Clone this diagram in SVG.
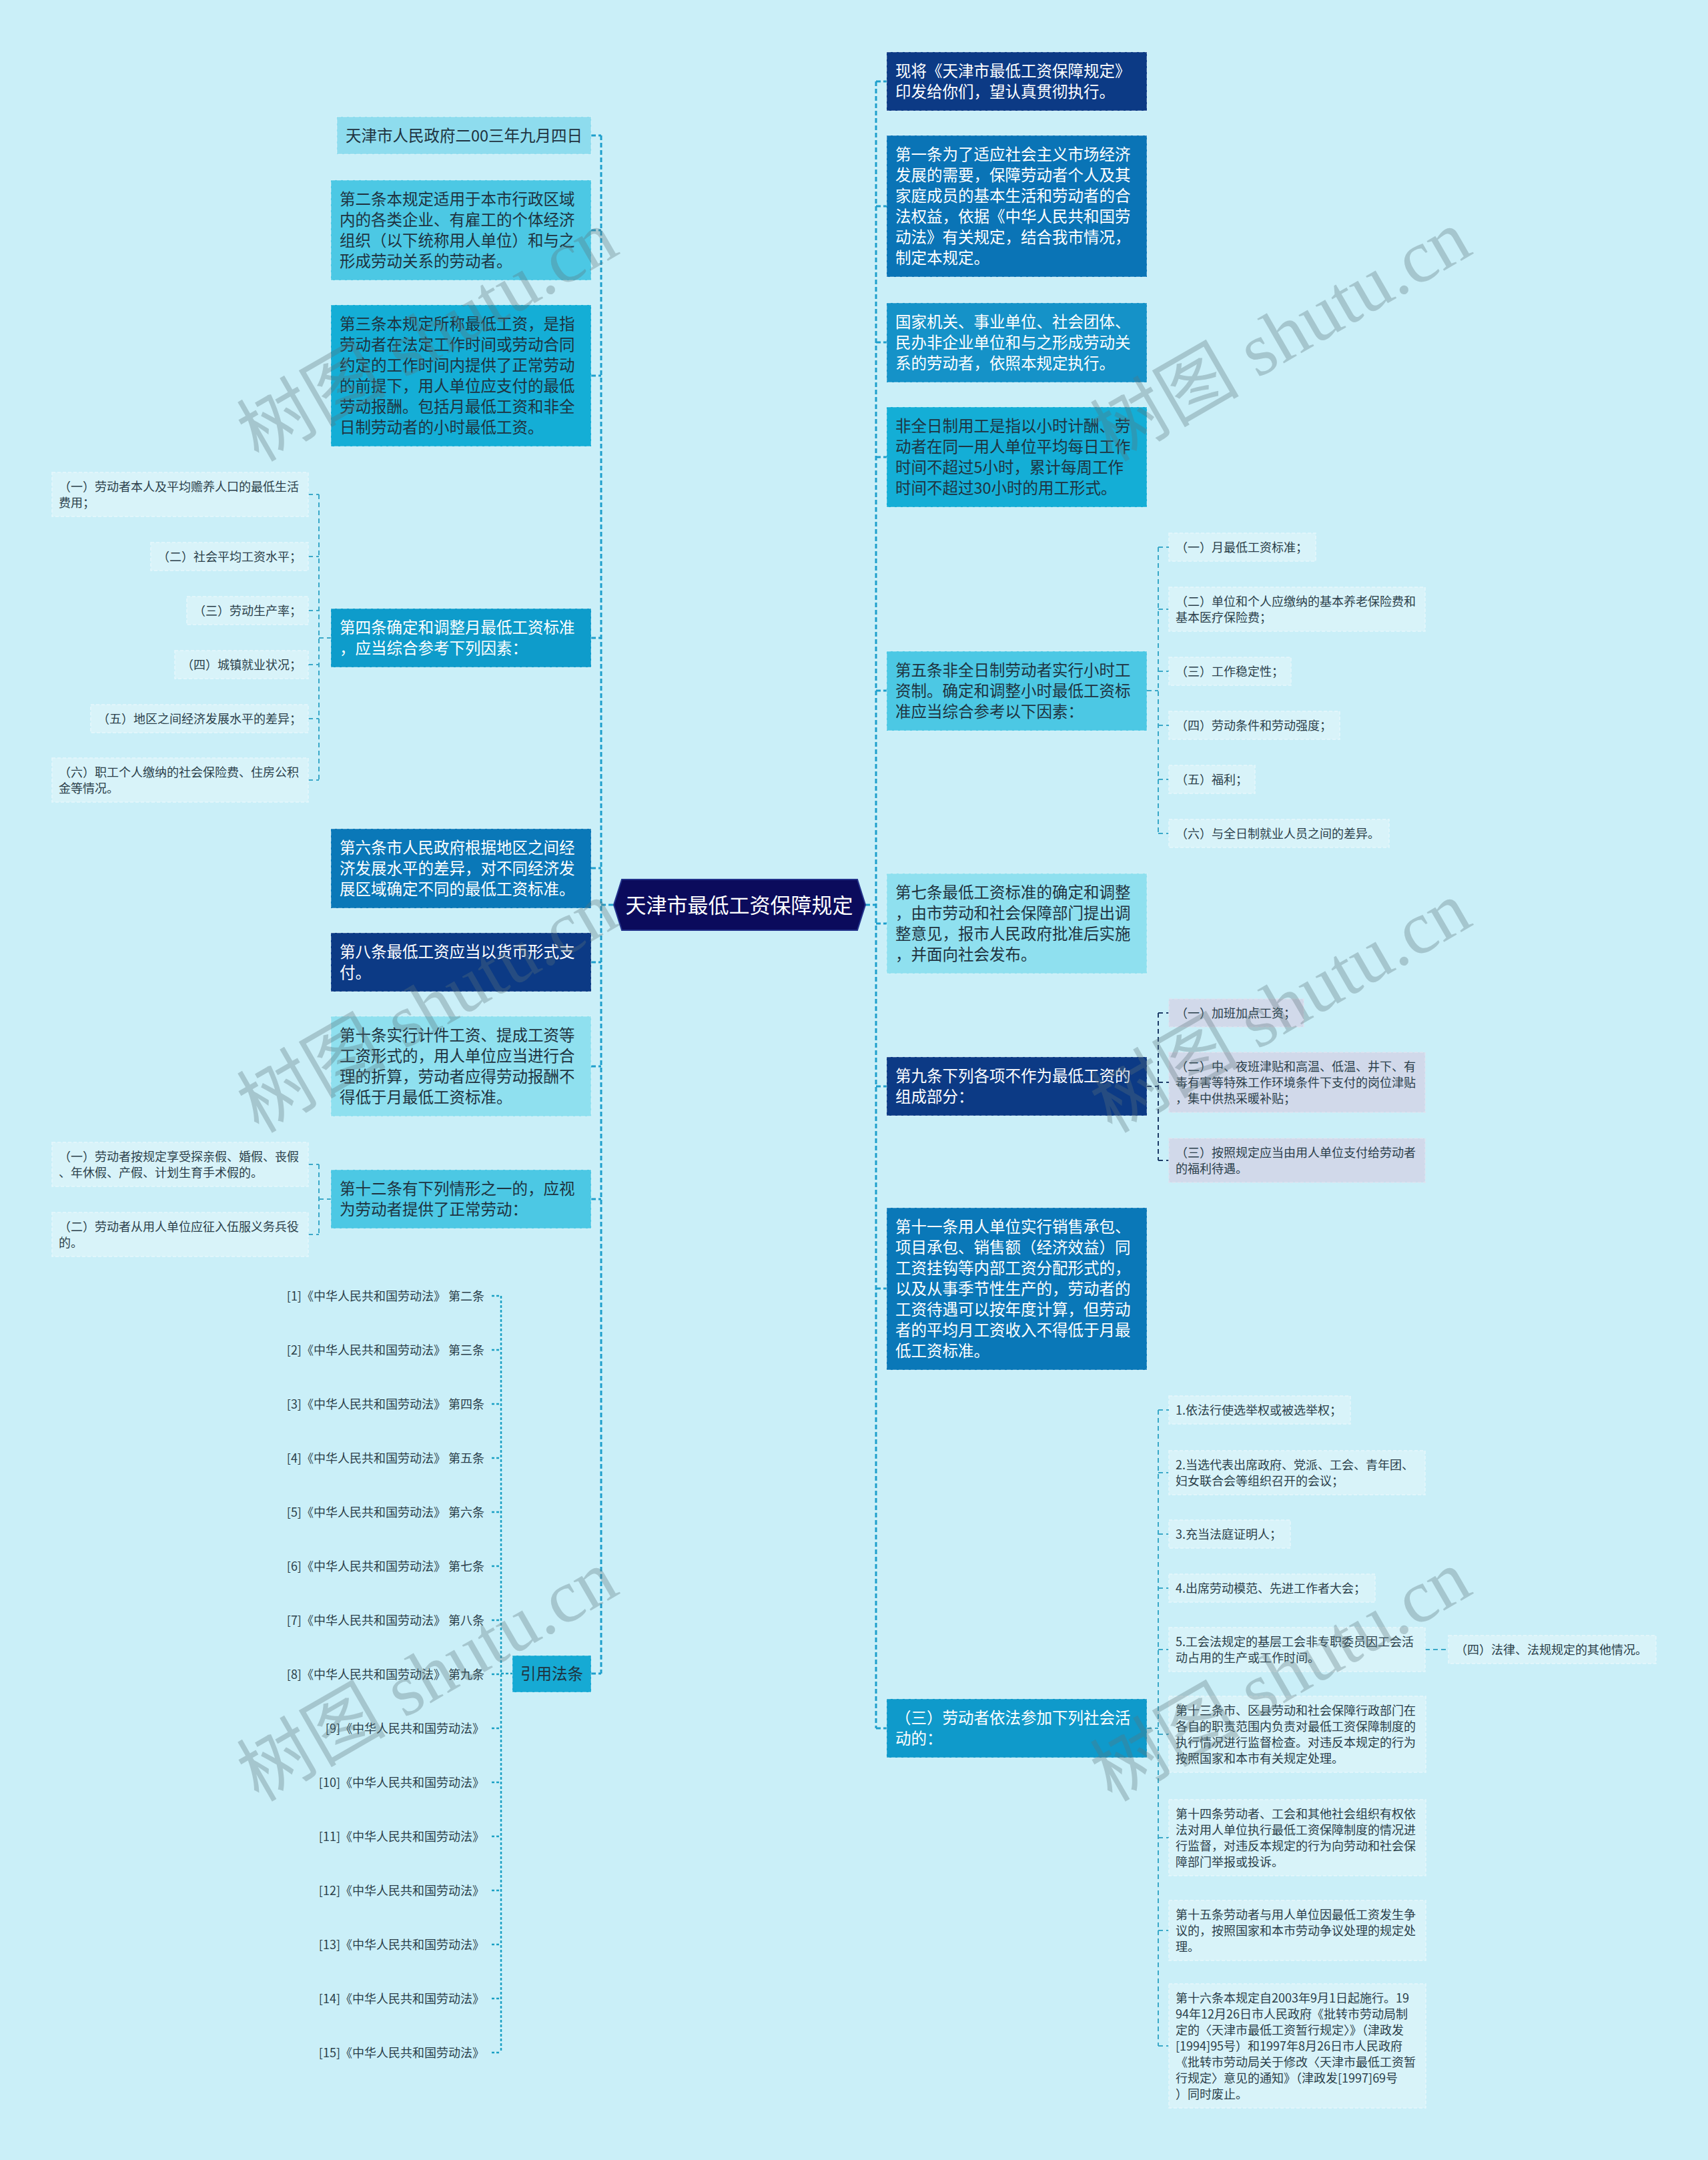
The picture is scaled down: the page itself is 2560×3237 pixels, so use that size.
<svg xmlns="http://www.w3.org/2000/svg" width="2560" height="3237" viewBox="0 0 2560 3237">
<style>
.t{font-family:'Noto Sans CJK SC','Noto Sans',sans-serif}
.m{font-size:23.5px}
.l{font-size:18px}
.dk{fill:#1f3340}
.lk{fill:#2b3f4a}
.wt{fill:#ffffff}
.bx{stroke:#ffffff;stroke-opacity:0.22;stroke-width:2;stroke-dasharray:6 3}
.lf{fill:#d8f3f9;stroke:#e6f8fc;stroke-width:1.5;stroke-dasharray:5 3}
.lp{fill:#d1d9ea;stroke:#dde3f0;stroke-width:1.5;stroke-dasharray:5 3}
.tr{fill:none;stroke:#1e9fcc;stroke-width:3;stroke-dasharray:7 4}
.cl{fill:none;stroke:#3aa8c8;stroke-width:2;stroke-dasharray:7 5}
.cn{fill:none;stroke:#1c3a66;stroke-width:2;stroke-dasharray:7 5}
.cr{fill:none;stroke:#1aa0c4;stroke-width:2.5;stroke-dasharray:4 3}
.wm{font-family:'Liberation Serif','Noto Sans CJK SC',serif;font-size:112px;fill:#5a7478;fill-opacity:0.33}
</style>
<rect x="0" y="0" width="2560" height="3237" fill="#caeff8"/>

<g id="connectors">
<path class="tr" d="M901,203 V2508 M886,203 H901 M886,345 H901 M886,563 H901 M886,956 H901 M886,1301 H901 M886,1442 H901 M886,1598 H901 M886,1797 H901 M886,2508 H901 M901,1356 H920"/>
<path class="tr" d="M1313,122 V2590 M1313,122 H1329 M1313,309 H1329 M1313,513 H1329 M1313,685 H1329 M1313,1035 H1329 M1313,1384 H1329 M1313,1628 H1329 M1313,1931 H1329 M1313,2590 H1329 M1297,1356 H1313"/>
<path class="cl" d="M478,741 V1169 M462,741 H478 M462,834 H478 M462,915 H478 M462,996 H478 M462,1077 H478 M462,1169 H478 M478,956 H496"/>
<path class="cl" d="M478,1745 V1850 M462,1745 H478 M462,1850 H478 M478,1797 H496"/>
<path class="cl" d="M1736,820 V1249 M1736,820 H1752 M1736,913 H1752 M1736,1006 H1752 M1736,1087 H1752 M1736,1168 H1752 M1736,1249 H1752 M1719,1035 H1736"/>
<path class="cn" d="M1736,1518 V1739 M1736,1518 H1752 M1736,1622 H1752 M1736,1739 H1752 M1719,1628 H1736"/>
<path class="cl" d="M1736,2113 V3066 M1736,2113 H1752 M1736,2207 H1752 M1736,2299 H1752 M1736,2380 H1752 M1736,2472 H1752 M1736,2599 H1752 M1736,2754 H1752 M1736,2893 H1752 M1736,3066 H1752 M1719,2590 H1736 M2136,2472 H2171"/>
<path class="cr" d="M751,1942 V3076 M737,1942 H751 M737,2023 H751 M737,2104 H751 M737,2185 H751 M737,2266 H751 M737,2347 H751 M737,2428 H751 M737,2509 H751 M737,2590 H751 M737,2671 H751 M737,2752 H751 M737,2833 H751 M737,2914 H751 M737,2995 H751 M737,3076 H751 M751,2508 H768"/>
</g>

<g id="root">
<polygon points="920,1356 932,1318 1285,1318 1297,1356 1285,1394 932,1394" fill="#0b0b5c" stroke="#22318a" stroke-width="2"/>
<text class="t wt" x="1108" y="1368" font-size="31" text-anchor="middle">天津市最低工资保障规定</text>
</g>

<g id="n-date"><rect class="bx" x="505" y="175" width="381" height="56" fill="#8edcee"/>
<text class="t m dk" x="518" y="211.5">天津市人民政府二00三年九月四日</text></g>

<g id="n-art2"><rect class="bx" x="496" y="270" width="390" height="150" fill="#4cc8e4"/>
<text class="t m dk"><tspan x="509" y="306.5">第二条本规定适用于本市行政区域</tspan><tspan x="509" y="337.5">内的各类企业、有雇工的个体经济</tspan><tspan x="509" y="368.5">组织（以下统称用人单位）和与之</tspan><tspan x="509" y="399.5">形成劳动关系的劳动者。</tspan></text></g>

<g id="n-art3"><rect class="bx" x="496" y="457" width="390" height="212" fill="#14aed6"/>
<text class="t m dk"><tspan x="509" y="493.5">第三条本规定所称最低工资，是指</tspan><tspan x="509" y="524.5">劳动者在法定工作时间或劳动合同</tspan><tspan x="509" y="555.5">约定的工作时间内提供了正常劳动</tspan><tspan x="509" y="586.5">的前提下，用人单位应支付的最低</tspan><tspan x="509" y="617.5">劳动报酬。包括月最低工资和非全</tspan><tspan x="509" y="648.5">日制劳动者的小时最低工资。</tspan></text></g>

<g id="n-art4"><rect class="bx" x="496" y="912" width="390" height="88" fill="#0e9ccb"/>
<text class="t m wt"><tspan x="509" y="948.5">第四条确定和调整月最低工资标准</tspan><tspan x="509" y="979.5">，应当综合参考下列因素：</tspan></text></g>

<g id="n-art4-1"><rect class="lf" x="78" y="708" width="384" height="66"/>
<text class="t l lk"><tspan x="88" y="735.8">（一）劳动者本人及平均赡养人口的最低生活</tspan><tspan x="88" y="759.8">费用；</tspan></text></g>
<g id="n-art4-2"><rect class="lf" x="226" y="813" width="236" height="42"/>
<text class="t l lk" x="236" y="840.8">（二）社会平均工资水平；</text></g>
<g id="n-art4-3"><rect class="lf" x="280" y="894" width="182" height="42"/>
<text class="t l lk" x="290" y="921.8">（三）劳动生产率；</text></g>
<g id="n-art4-4"><rect class="lf" x="262" y="975" width="200" height="42"/>
<text class="t l lk" x="272" y="1002.8">（四）城镇就业状况；</text></g>
<g id="n-art4-5"><rect class="lf" x="136" y="1056" width="326" height="42"/>
<text class="t l lk" x="146" y="1083.8">（五）地区之间经济发展水平的差异；</text></g>
<g id="n-art4-6"><rect class="lf" x="78" y="1136" width="384" height="66"/>
<text class="t l lk"><tspan x="88" y="1163.8">（六）职工个人缴纳的社会保险费、住房公积</tspan><tspan x="88" y="1187.8">金等情况。</tspan></text></g>

<g id="n-art6"><rect class="bx" x="496" y="1242" width="390" height="119" fill="#0a78b8"/>
<text class="t m wt"><tspan x="509" y="1278.5">第六条市人民政府根据地区之间经</tspan><tspan x="509" y="1309.5">济发展水平的差异，对不同经济发</tspan><tspan x="509" y="1340.5">展区域确定不同的最低工资标准。</tspan></text></g>

<g id="n-art8"><rect class="bx" x="496" y="1398" width="390" height="88" fill="#0c3a85"/>
<text class="t m wt"><tspan x="509" y="1434.5">第八条最低工资应当以货币形式支</tspan><tspan x="509" y="1465.5">付。</tspan></text></g>

<g id="n-art10"><rect class="bx" x="496" y="1523" width="390" height="150" fill="#8fe0ef"/>
<text class="t m dk"><tspan x="509" y="1559.5">第十条实行计件工资、提成工资等</tspan><tspan x="509" y="1590.5">工资形式的，用人单位应当进行合</tspan><tspan x="509" y="1621.5">理的折算，劳动者应得劳动报酬不</tspan><tspan x="509" y="1652.5">得低于月最低工资标准。</tspan></text></g>

<g id="n-art12"><rect class="bx" x="496" y="1753" width="390" height="88" fill="#4cc8e4"/>
<text class="t m dk"><tspan x="509" y="1789.5">第十二条有下列情形之一的，应视</tspan><tspan x="509" y="1820.5">为劳动者提供了正常劳动：</tspan></text></g>
<g id="n-art12-1"><rect class="lf" x="78" y="1712" width="384" height="66"/>
<text class="t l lk"><tspan x="88" y="1739.8">（一）劳动者按规定享受探亲假、婚假、丧假</tspan><tspan x="88" y="1763.8">、年休假、产假、计划生育手术假的。</tspan></text></g>
<g id="n-art12-2"><rect class="lf" x="78" y="1817" width="384" height="66"/>
<text class="t l lk"><tspan x="88" y="1844.8">（二）劳动者从用人单位应征入伍服义务兵役</tspan><tspan x="88" y="1868.8">的。</tspan></text></g>

<g id="n-refs"><rect class="bx" x="768" y="2481" width="118" height="55" fill="#16aad4"/>
<text class="t m dk" x="827" y="2517" text-anchor="middle">引用法条</text></g>
<g id="n-ref-items" class="t l lk" text-anchor="end">
<text x="726" y="1949">[1]《中华人民共和国劳动法》 第二条</text>
<text x="726" y="2030">[2]《中华人民共和国劳动法》 第三条</text>
<text x="726" y="2111">[3]《中华人民共和国劳动法》 第四条</text>
<text x="726" y="2192">[4]《中华人民共和国劳动法》 第五条</text>
<text x="726" y="2273">[5]《中华人民共和国劳动法》 第六条</text>
<text x="726" y="2354">[6]《中华人民共和国劳动法》 第七条</text>
<text x="726" y="2435">[7]《中华人民共和国劳动法》 第八条</text>
<text x="726" y="2516">[8]《中华人民共和国劳动法》 第九条</text>
<text x="726" y="2597">[9]《中华人民共和国劳动法》</text>
<text x="726" y="2678">[10]《中华人民共和国劳动法》</text>
<text x="726" y="2759">[11]《中华人民共和国劳动法》</text>
<text x="726" y="2840">[12]《中华人民共和国劳动法》</text>
<text x="726" y="2921">[13]《中华人民共和国劳动法》</text>
<text x="726" y="3002">[14]《中华人民共和国劳动法》</text>
<text x="726" y="3083">[15]《中华人民共和国劳动法》</text>
</g>

<g id="n-notice"><rect class="bx" x="1329" y="78" width="390" height="88" fill="#0c3a85"/>
<text class="t m wt"><tspan x="1342" y="114.5">现将《天津市最低工资保障规定》</tspan><tspan x="1342" y="145.5">印发给你们，望认真贯彻执行。</tspan></text></g>

<g id="n-art1"><rect class="bx" x="1329" y="203" width="390" height="212" fill="#0a74b6"/>
<text class="t m wt"><tspan x="1342" y="239.5">第一条为了适应社会主义市场经济</tspan><tspan x="1342" y="270.5">发展的需要，保障劳动者个人及其</tspan><tspan x="1342" y="301.5">家庭成员的基本生活和劳动者的合</tspan><tspan x="1342" y="332.5">法权益，依据《中华人民共和国劳</tspan><tspan x="1342" y="363.5">动法》有关规定，结合我市情况，</tspan><tspan x="1342" y="394.5">制定本规定。</tspan></text></g>

<g id="n-scope"><rect class="bx" x="1329" y="454" width="390" height="119" fill="#1592c8"/>
<text class="t m wt"><tspan x="1342" y="490.5">国家机关、事业单位、社会团体、</tspan><tspan x="1342" y="521.5">民办非企业单位和与之形成劳动关</tspan><tspan x="1342" y="552.5">系的劳动者，依照本规定执行。</tspan></text></g>

<g id="n-parttime"><rect class="bx" x="1329" y="610" width="390" height="150" fill="#14aed6"/>
<text class="t m dk"><tspan x="1342" y="646.5">非全日制用工是指以小时计酬、劳</tspan><tspan x="1342" y="677.5">动者在同一用人单位平均每日工作</tspan><tspan x="1342" y="708.5">时间不超过5小时，累计每周工作</tspan><tspan x="1342" y="739.5">时间不超过30小时的用工形式。</tspan></text></g>

<g id="n-art5"><rect class="bx" x="1329" y="976" width="390" height="119" fill="#4cc8e4"/>
<text class="t m dk"><tspan x="1342" y="1012.5">第五条非全日制劳动者实行小时工</tspan><tspan x="1342" y="1043.5">资制。确定和调整小时最低工资标</tspan><tspan x="1342" y="1074.5">准应当综合参考以下因素：</tspan></text></g>
<g id="n-art5-1"><rect class="lf" x="1752" y="799" width="220" height="42"/>
<text class="t l lk" x="1762" y="826.8">（一）月最低工资标准；</text></g>
<g id="n-art5-2"><rect class="lf" x="1752" y="880" width="384" height="66"/>
<text class="t l lk"><tspan x="1762" y="907.8">（二）单位和个人应缴纳的基本养老保险费和</tspan><tspan x="1762" y="931.8">基本医疗保险费；</tspan></text></g>
<g id="n-art5-3"><rect class="lf" x="1752" y="985" width="183" height="42"/>
<text class="t l lk" x="1762" y="1012.8">（三）工作稳定性；</text></g>
<g id="n-art5-4"><rect class="lf" x="1752" y="1066" width="256" height="42"/>
<text class="t l lk" x="1762" y="1093.8">（四）劳动条件和劳动强度；</text></g>
<g id="n-art5-5"><rect class="lf" x="1752" y="1147" width="129" height="42"/>
<text class="t l lk" x="1762" y="1174.8">（五）福利；</text></g>
<g id="n-art5-6"><rect class="lf" x="1752" y="1228" width="330" height="42"/>
<text class="t l lk" x="1762" y="1255.8">（六）与全日制就业人员之间的差异。</text></g>

<g id="n-art7"><rect class="bx" x="1329" y="1309" width="390" height="150" fill="#8fe0ef"/>
<text class="t m dk"><tspan x="1342" y="1345.5">第七条最低工资标准的确定和调整</tspan><tspan x="1342" y="1376.5">，由市劳动和社会保障部门提出调</tspan><tspan x="1342" y="1407.5">整意见，报市人民政府批准后实施</tspan><tspan x="1342" y="1438.5">，并面向社会发布。</tspan></text></g>

<g id="n-art9"><rect class="bx" x="1329" y="1584" width="390" height="88" fill="#0c3a85"/>
<text class="t m wt"><tspan x="1342" y="1620.5">第九条下列各项不作为最低工资的</tspan><tspan x="1342" y="1651.5">组成部分：</tspan></text></g>
<g id="n-art9-1"><rect class="lp" x="1752" y="1497" width="202" height="42"/>
<text class="t l lk" x="1762" y="1524.8">（一）加班加点工资；</text></g>
<g id="n-art9-2"><rect class="lp" x="1752" y="1577" width="384" height="90"/>
<text class="t l lk"><tspan x="1762" y="1604.8">（二）中、夜班津贴和高温、低温、井下、有</tspan><tspan x="1762" y="1628.8">毒有害等特殊工作环境条件下支付的岗位津贴</tspan><tspan x="1762" y="1652.8">，集中供热采暖补贴；</tspan></text></g>
<g id="n-art9-3"><rect class="lp" x="1752" y="1706" width="384" height="66"/>
<text class="t l lk"><tspan x="1762" y="1733.8">（三）按照规定应当由用人单位支付给劳动者</tspan><tspan x="1762" y="1757.8">的福利待遇。</tspan></text></g>

<g id="n-art11"><rect class="bx" x="1329" y="1810" width="390" height="243" fill="#0a78b8"/>
<text class="t m wt"><tspan x="1342" y="1846.5">第十一条用人单位实行销售承包、</tspan><tspan x="1342" y="1877.5">项目承包、销售额（经济效益）同</tspan><tspan x="1342" y="1908.5">工资挂钩等内部工资分配形式的，</tspan><tspan x="1342" y="1939.5">以及从事季节性生产的，劳动者的</tspan><tspan x="1342" y="1970.5">工资待遇可以按年度计算，但劳动</tspan><tspan x="1342" y="2001.5">者的平均月工资收入不得低于月最</tspan><tspan x="1342" y="2032.5">低工资标准。</tspan></text></g>

<g id="n-social"><rect class="bx" x="1329" y="2546" width="390" height="88" fill="#0f9acb"/>
<text class="t m wt"><tspan x="1342" y="2582.5">（三）劳动者依法参加下列社会活</tspan><tspan x="1342" y="2613.5">动的：</tspan></text></g>
<g id="n-social-1"><rect class="lf" x="1752" y="2092" width="272" height="42"/>
<text class="t l lk" x="1762" y="2119.8">1.依法行使选举权或被选举权；</text></g>
<g id="n-social-2"><rect class="lf" x="1752" y="2174" width="384" height="66"/>
<text class="t l lk"><tspan x="1762" y="2201.8">2.当选代表出席政府、党派、工会、青年团、</tspan><tspan x="1762" y="2225.8">妇女联合会等组织召开的会议；</tspan></text></g>
<g id="n-social-3"><rect class="lf" x="1752" y="2278" width="182" height="42"/>
<text class="t l lk" x="1762" y="2305.8">3.充当法庭证明人；</text></g>
<g id="n-social-4"><rect class="lf" x="1752" y="2359" width="309" height="42"/>
<text class="t l lk" x="1762" y="2386.8">4.出席劳动模范、先进工作者大会；</text></g>
<g id="n-social-5"><rect class="lf" x="1752" y="2439" width="384" height="66"/>
<text class="t l lk"><tspan x="1762" y="2466.8">5.工会法规定的基层工会非专职委员因工会活</tspan><tspan x="1762" y="2490.8">动占用的生产或工作时间。</tspan></text></g>
<g id="n-social-5a"><rect class="lf" x="2171" y="2451" width="311" height="42"/>
<text class="t l lk" x="2181" y="2478.8">（四）法律、法规规定的其他情况。</text></g>
<g id="n-art13"><rect class="lf" x="1752" y="2542" width="385" height="114"/>
<text class="t l lk"><tspan x="1762" y="2569.8">第十三条市、区县劳动和社会保障行政部门在</tspan><tspan x="1762" y="2593.8">各自的职责范围内负责对最低工资保障制度的</tspan><tspan x="1762" y="2617.8">执行情况进行监督检查。对违反本规定的行为</tspan><tspan x="1762" y="2641.8">按照国家和本市有关规定处理。</tspan></text></g>
<g id="n-art14"><rect class="lf" x="1752" y="2697" width="385" height="114"/>
<text class="t l lk"><tspan x="1762" y="2724.8">第十四条劳动者、工会和其他社会组织有权依</tspan><tspan x="1762" y="2748.8">法对用人单位执行最低工资保障制度的情况进</tspan><tspan x="1762" y="2772.8">行监督，对违反本规定的行为向劳动和社会保</tspan><tspan x="1762" y="2796.8">障部门举报或投诉。</tspan></text></g>
<g id="n-art15"><rect class="lf" x="1752" y="2848" width="385" height="90"/>
<text class="t l lk"><tspan x="1762" y="2875.8">第十五条劳动者与用人单位因最低工资发生争</tspan><tspan x="1762" y="2899.8">议的，按照国家和本市劳动争议处理的规定处</tspan><tspan x="1762" y="2923.8">理。</tspan></text></g>
<g id="n-art16"><rect class="lf" x="1752" y="2973" width="385" height="186"/>
<text class="t l lk"><tspan x="1762" y="3000.8">第十六条本规定自2003年9月1日起施行。19</tspan><tspan x="1762" y="3024.8">94年12月26日市人民政府《批转市劳动局制</tspan><tspan x="1762" y="3048.8">定的〈天津市最低工资暂行规定〉》（津政发</tspan><tspan x="1762" y="3072.8">[1994]95号）和1997年8月26日市人民政府</tspan><tspan x="1762" y="3096.8">《批转市劳动局关于修改〈天津市最低工资暂</tspan><tspan x="1762" y="3120.8">行规定〉意见的通知》（津政发[1997]69号</tspan><tspan x="1762" y="3144.8">）同时废止。</tspan></text></g>

<g id="watermarks">
<text class="wm" x="645" y="540" text-anchor="middle" transform="rotate(-30 645 511)">树图 shutu.cn</text>
<text class="wm" x="1924" y="540" text-anchor="middle" transform="rotate(-30 1924 511)">树图 shutu.cn</text>
<text class="wm" x="645" y="1546" text-anchor="middle" transform="rotate(-30 645 1517)">树图 shutu.cn</text>
<text class="wm" x="1924" y="1546" text-anchor="middle" transform="rotate(-30 1924 1517)">树图 shutu.cn</text>
<text class="wm" x="645" y="2548" text-anchor="middle" transform="rotate(-30 645 2519)">树图 shutu.cn</text>
<text class="wm" x="1924" y="2548" text-anchor="middle" transform="rotate(-30 1924 2519)">树图 shutu.cn</text>
</g>
</svg>
